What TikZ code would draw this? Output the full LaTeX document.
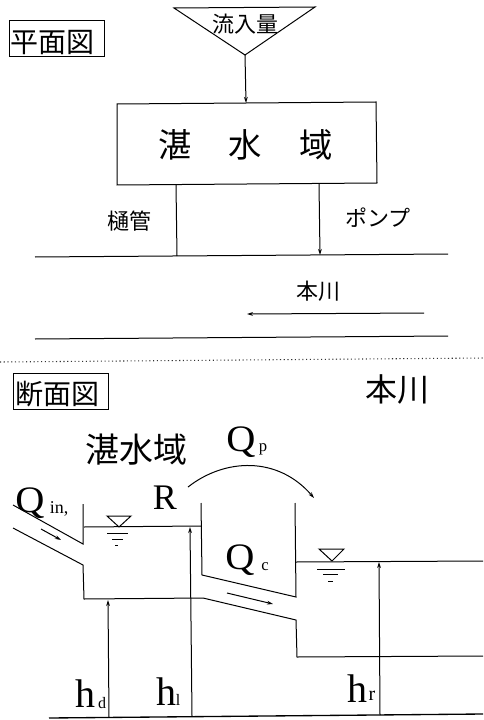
\documentclass[tikz,border=0pt]{standalone}
\usepackage{fontspec}
\setmainfont{Liberation Serif}
\newfontfamily\cjk{Noto Sans CJK JP}
\usetikzlibrary{arrows.meta}
\tikzset{
  ln/.style={line width=0.75pt,black},
  tip/.style={-{Stealth[length=4.5pt,width=2.8pt]}},
  jp/.style={inner sep=0pt,text=black,font=\cjk\fontsize{#1}{#1}\selectfont},
  lat/.style={inner sep=0pt,text=black,font=\fontsize{#1}{#1}\selectfont},
  bigq/.style={lat=28pt,xscale=1.08},
  titlebox/.style={draw,ln,minimum width=71.25pt,minimum height=27pt,inner sep=0pt}
}
\begin{document}
\begin{tikzpicture}[x=0.75pt,y=-0.75pt]
\useasboundingbox (0,0) rectangle (483,720);
% plan view
\coordinate (funL) at (174,8); \coordinate (funR) at (315,7); \coordinate (funB) at (245,55);
\draw[ln] (funL) -- (funR) -- (funB) -- cycle;
\node[jp=16.5pt] (inflow) at (245,24) {流入量};
\node[titlebox] (plan) at (56.5,39) {};
\node[jp=21pt] (plantext) at (53,43) {平面図};
\coordinate (bTL) at (117,104); \coordinate (bTR) at (376,102); \coordinate (bBR) at (377,183); \coordinate (bBL) at (117,185);
\draw[ln] (bTL) -- (bTR) -- (bBR) -- (bBL) -- cycle;
\coordinate (bIn) at (246,103);
\draw[ln,tip] (funB) -- (bIn);
\node[jp=25pt] (hd1) at (175,145) {湛};
\node[jp=25pt] (hd2) at (245,145) {水};
\node[jp=25pt] (hd3) at (316,145) {域};
\coordinate (r1L) at (35,257); \coordinate (r1R) at (448,254);
\coordinate (r2L) at (35,339); \coordinate (r2R) at (448,336);
\draw[ln] (r1L) -- (r1R);
\draw[ln] (r2L) -- (r2R);
\coordinate (gTop) at (176,185); \coordinate (gBot) at (177,256);
\coordinate (pTop) at (319,184); \coordinate (pBot) at (320,255);
\draw[ln] (gTop) -- (gBot);
\draw[ln,tip] (pTop) -- (pBot);
\node[jp=16.5pt] (hikan) at (129,221) {樋管};
\node[jp=16.5pt] (pump) at (378,218) {ポンプ};
\node[jp=16.5pt] (river1) at (318,291) {本川};
\coordinate (flowA) at (424,313); \coordinate (flowB) at (247,314);
\draw[ln,tip] (flowA) -- (flowB);
\coordinate (dotL) at (0,362); \coordinate (dotR) at (483,358);
\draw[line width=0.8pt,black!80,dotted] (dotL) -- (dotR);
% section view
\node[titlebox] (sec) at (60.5,391) {};
\node[jp=21pt] (sectext) at (57,394) {断面図};
\node[jp=24pt] (river2) at (397,389) {本川};
\node[jp=25.5pt] (tansui) at (136,450) {湛水域};
% Qp arc
\coordinate (arcA) at (188,487); \coordinate (arcB) at (314,498);
\draw[ln,tip] (arcA) .. controls (225,458) and (278,456) .. (arcB);
\node[bigq] (Qp) at (241,442) {Q};
\node[lat=12.5pt] (Qps) at (263,449) {p};
\node[bigq] (Qin) at (30,503) {Q};
\node[lat=13.5pt] (Qins) at (59,509) {in,};
\node[lat=27pt] (R) at (165,498) {R};
\node[bigq] (Qc) at (240,560) {Q};
\node[lat=12.5pt] (Qcs) at (265,567) {c};
% left pipe and pond
\coordinate (uA) at (13,505); \coordinate (uB) at (83,544); \coordinate (wT) at (83,504);
\draw[ln] (uA) -- (uB) -- (wT);
\coordinate (lA) at (13,528); \coordinate (lB) at (83,565); \coordinate (lC) at (84,599);
\coordinate (lD) at (203,598); \coordinate (lE) at (296,620); \coordinate (lF) at (297,657); \coordinate (lG) at (483,656);
\draw[ln] (lA) -- (lB) -- (lC) -- (lD) -- (lE) -- (lF) -- (lG);
\coordinate (wlL) at (84,527); \coordinate (wlR) at (201,526);
\draw[ln] (wlL) -- (wlR);
\coordinate (wmT) at (201,503); \coordinate (wmB) at (202,575); \coordinate (wrB) at (296,597); \coordinate (wrT) at (295,503);
\draw[ln] (wmT) -- (wmB) -- (wrB) -- (wrT);
\coordinate (rwL) at (296,562); \coordinate (rwR) at (483,561);
\draw[ln] (rwL) -- (rwR);
% water marks
\draw[ln] (107,516) -- (131,516) -- (119,527) -- cycle;
\draw[ln] (107,533) -- (128,533);
\draw[ln] (112,539) -- (123,539);
\draw[ln] (115,545) -- (118,545);
\draw[ln] (319,549) -- (344,549) -- (332,561) -- cycle;
\draw[ln] (317,569) -- (345,569);
\draw[ln] (323,574) -- (338,574);
\draw[ln] (328,581) -- (333,581);
% flow arrows
\coordinate (f1a) at (41,529); \coordinate (f1b) at (61,540);
\coordinate (f2a) at (227,593); \coordinate (f2b) at (273,604);
\draw[ln,tip] (f1a) -- (f1b);
\draw[ln,tip] (f2a) -- (f2b);
% base and heights
\coordinate (baseL) at (49,718); \coordinate (baseR) at (483,714);
\draw[line width=1pt,black] (baseL) -- (baseR);
\coordinate (hdB) at (109,717); \coordinate (hdT) at (108,600);
\coordinate (hlB) at (192,716); \coordinate (hlT) at (190,527);
\coordinate (hrB) at (380,715); \coordinate (hrT) at (379,562);
\draw[ln,tip] (hdB) -- (hdT);
\draw[ln,tip] (hlB) -- (hlT);
\draw[ln,tip] (hrB) -- (hrT);
\node[lat=30pt] (hd) at (85,694) {h};
\node[lat=12pt] (hds) at (102,703) {d};
\node[lat=30pt] (hl) at (166,692) {h};
\node[lat=12pt] (hls) at (178,700) {l};
\node[lat=30pt] (hr) at (357,689) {h};
\node[lat=15pt] (hrs) at (372,696) {r};
\end{tikzpicture}
\end{document}
